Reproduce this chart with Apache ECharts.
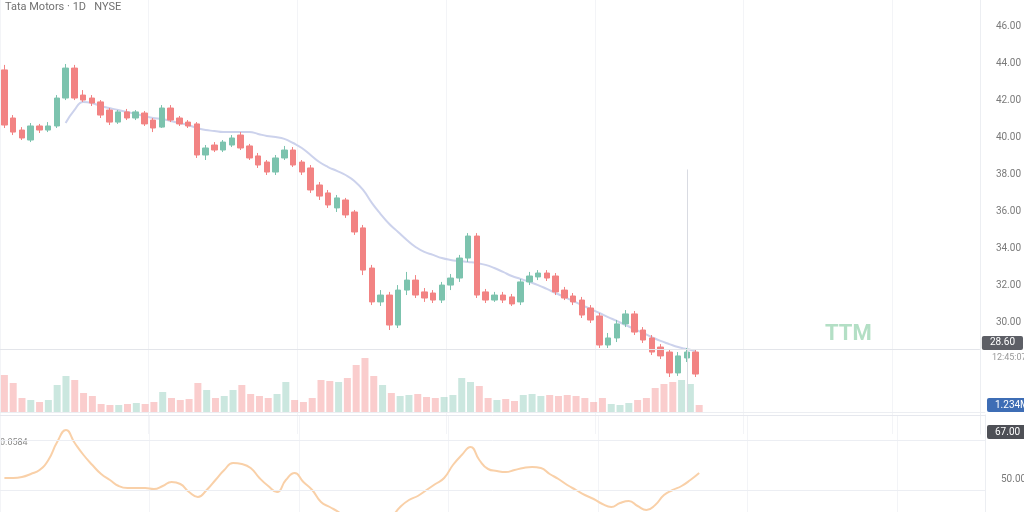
<!DOCTYPE html>
<html>
<head>
<meta charset="utf-8">
<script src="https://cdn.jsdelivr.net/npm/echarts@6/dist/echarts.min.js"></script>
<style>html,body{margin:0;padding:0;background:#fff}#c{width:1024px;height:512px}</style>
</head>
<body>
<div id="c"></div>
<script>
// ---- data ----
// candles: [open, close, low, high]
var candles = [
[43.68,40.70,40.54,43.95],[41.08,40.32,40.16,41.24],[40.43,40.00,39.89,40.59],[39.89,40.65,39.78,40.81],
[40.65,40.43,40.27,40.76],[40.43,40.65,40.32,40.86],[40.65,42.16,40.54,42.32],[42.16,43.78,42.05,44.00],
[43.78,42.16,42.05,43.95],[42.32,42.05,41.95,42.59],[42.16,41.89,41.73,42.32],[41.95,41.24,41.08,42.05],
[41.51,40.86,40.70,41.62],[40.86,41.41,40.76,41.51],[41.41,41.08,40.97,41.57],[41.08,41.41,40.97,41.51],
[41.35,40.76,40.65,41.46],[40.97,40.54,40.32,41.08],[40.59,41.62,40.54,41.78],[41.62,40.97,40.86,41.78],
[41.08,40.76,40.65,41.19],[40.86,40.65,40.54,40.97],[40.76,39.08,38.92,40.86],[39.08,39.46,38.81,39.62],
[39.62,39.35,39.24,39.78],[39.35,39.78,39.24,39.89],[39.62,40.00,39.51,40.16],[40.16,39.46,39.35,40.32],
[39.57,38.92,38.81,39.68],[39.03,38.54,38.38,39.19],[38.70,38.16,38.00,38.81],[38.16,38.92,38.00,39.08],
[38.92,39.35,38.81,39.57],[39.35,38.54,38.43,39.51],[38.70,38.16,38.00,38.81],[38.38,37.19,37.03,38.54],
[37.46,36.86,36.65,37.62],[37.03,36.38,36.22,37.19],[36.22,36.76,36.00,36.92],[36.65,35.84,35.68,36.76],
[36.00,34.92,34.76,36.11],[35.14,32.86,32.59,35.30],[32.97,31.14,30.97,33.14],[31.14,31.51,30.92,31.78],
[31.51,29.89,29.62,31.68],[29.89,31.78,29.73,32.05],[31.78,32.32,31.51,32.76],[32.32,31.51,31.35,32.59],
[31.68,31.35,31.14,31.89],[31.62,31.24,31.08,31.78],[31.24,32.05,31.08,32.22],[32.05,32.43,31.78,32.65],
[32.43,33.51,32.22,33.68],[33.51,34.70,33.30,34.86],[34.70,31.51,31.35,34.86],[31.68,31.24,31.08,31.84],
[31.24,31.51,31.14,31.68],[31.51,31.24,31.08,31.68],[31.41,31.03,30.92,31.57],[31.14,32.22,30.97,32.38],
[32.22,32.54,32.05,32.76],[32.49,32.70,32.32,32.86],[32.70,32.43,32.27,32.86],[32.54,31.68,31.51,32.70],
[31.78,31.35,31.24,31.95],[31.46,31.14,30.97,31.62],[31.24,30.43,30.27,31.41],[30.81,30.16,30.00,30.97],
[30.38,28.81,28.65,30.54],[28.81,29.19,28.65,29.46],[29.19,29.95,28.97,30.16],[29.95,30.49,29.78,30.70],
[30.49,29.51,29.35,30.65],[29.62,29.08,28.92,29.78],[29.19,28.43,28.27,29.35],[28.70,28.22,28.05,28.86],
[28.43,27.30,27.08,28.59],[27.30,28.22,27.14,28.43],[28.11,28.43,27.89,28.65],[28.43,27.24,27.08,28.59]
];
var maValues = [null,null,null,null,null,null,null,
40.81,41.51,41.95,41.89,41.73,41.62,41.51,41.41,41.30,41.19,41.08,41.03,40.92,40.81,40.70,40.54,
40.43,40.38,40.32,40.32,40.32,40.32,40.22,40.11,40.05,39.95,39.73,39.46,39.08,38.70,38.43,38.22,
38.00,37.68,37.19,36.49,35.89,35.35,34.92,34.49,34.11,33.84,33.68,33.51,33.41,33.35,33.30,33.24,
33.14,32.97,32.76,32.54,32.38,32.22,32.05,31.84,31.62,31.41,31.19,30.97,30.76,30.54,30.32,30.11,
29.89,29.68,29.46,29.24,29.03,28.86,28.70,28.59,28.49];
var volumes = [3.7,2.9,1.4,1.2,1.0,1.2,2.7,3.6,3.2,1.9,1.6,0.8,0.7,0.7,0.8,0.9,0.8,1.0,2.0,1.4,
1.2,1.3,2.9,2.2,1.4,1.6,2.2,2.7,1.8,1.6,1.4,1.8,3.0,1.2,1.0,1.4,3.2,3.1,3.0,3.4,
4.7,5.4,3.6,2.7,1.9,1.6,1.7,1.8,1.5,1.4,1.5,1.7,3.4,3.0,2.6,1.4,1.2,1.3,1.1,1.7,
1.8,1.6,1.7,1.6,1.7,1.6,1.4,1.0,1.4,0.8,0.7,0.9,1.2,1.4,2.4,2.8,3.0,3.2,2.8,0.7];
var indicator = [62,62,63,66,70,80,98,110,97,85,75,66,60,54,52,52,52,51,54,58,
56,48,43,50,60,70,77,76,72,62,54,48,60,67,58,50,38,33,28,22,
18,16,15,18,23,33,40,44,50,56,62,75,85,93,80,71,69,68,70,72,
73,72,66,61,55,50,45,41,36,33,37,39,34,30,35,45,50,54,60,67];
var priceTicks = [30,32,34,36,38,40,42,44,46];
var indicatorLevels = [50,100];
var crossIndex = 78;
var crossPrice = 28.60;
var totalSlots = 112;
// category labels (trading days)
var categories = [];
(function(){var d=new Date(Date.UTC(2024,0,2));while(categories.length<totalSlots){var w=d.getUTCDay();if(w!==0&&w!==6){categories.push(d.toISOString().slice(0,10));}d.setUTCDate(d.getUTCDate()+1);}})();

var UP='#7cc3ae', DOWN='#f28383';
var volData = volumes.map(function(v,i){
  var c=candles[i]; return {value:v,itemStyle:{color:(c[1]>=c[0]?UP:DOWN),opacity:0.4}};
});
var pill = function(bg){return {show:true,position:'end',distance:2,backgroundColor:bg,color:'#fff',fontSize:10,padding:[2,8,2,8],borderRadius:2,fontFamily:'Roboto'};};
var hidden = {color:'rgba(0,0,0,0)',width:0};

var chart = echarts.init(document.getElementById('c'));
var xBase = {type:'category',data:categories,boundaryGap:true,axisLabel:{show:false},axisTick:{show:false}};
chart.setOption({
  animation:false,
  backgroundColor:'#ffffff',
  title:[
    {text:'Tata Motors · 1D   NYSE',left:0,top:-3,textStyle:{fontSize:11,color:'#707070',fontWeight:'normal',fontFamily:'Roboto'}},
    {text:'TTM',left:820,top:318,textStyle:{fontSize:22,color:'#b3dfc5',fontWeight:'bold',fontFamily:'Roboto'}}
  ],
  grid:[
    {left:0,right:39,top:0,height:434},
    {left:0,right:39,top:350,height:62},
    {left:0,right:39,top:415,height:97}
  ],
  xAxis:[
    Object.assign({},xBase,{gridIndex:0,axisLine:{show:false},splitLine:{show:true,interval:16,lineStyle:{color:'#f3f4f7'}}}),
    Object.assign({},xBase,{gridIndex:1,axisLine:{show:true,lineStyle:{color:'#eceef2'}},splitLine:{show:false}}),
    Object.assign({},xBase,{gridIndex:2,position:'top',axisLine:{show:true,lineStyle:{color:'#e6e8ee'}},splitLine:{show:true,interval:16,lineStyle:{color:'#f3f4f7'}}})
  ],
  yAxis:[
    {gridIndex:0,type:'value',position:'right',min:24,max:47.459,interval:2,
     axisLine:{show:true,lineStyle:{color:'#eceef2'}},axisTick:{show:false},splitLine:{show:false},
     axisLabel:{margin:16,fontSize:10,color:'#7a7a7a',fontFamily:'Roboto',
       formatter:function(v){return priceTicks.indexOf(v)>=0?v.toFixed(2):'';}}},
    {gridIndex:1,type:'value',position:'right',min:0,max:6.2,show:false},
    {gridIndex:2,type:'value',position:'right',min:28,max:125,
     axisLine:{show:true,lineStyle:{color:'#eceef2'}},axisTick:{show:false},
     splitLine:{show:false},axisLabel:{show:false}}
  ],
  series:[
    {type:'candlestick',xAxisIndex:0,yAxisIndex:0,data:candles,barWidth:6,
     itemStyle:{color:UP,color0:DOWN,borderColor:UP,borderColor0:DOWN,borderWidth:1},
     markLine:{silent:true,symbol:'none',animation:false,
       data:[
         [{coord:[crossIndex,38.3],lineStyle:{color:'#d9dbe2',width:1,type:'solid'},label:{show:false}},{coord:[crossIndex,25.2]}],
         {yAxis:crossPrice,lineStyle:{color:'#e3e5ea',width:1,type:'solid'},
          label:{show:true,position:'end',distance:2,
            formatter:function(){return '{a|'+crossPrice.toFixed(2)+'}\n{b|12:45:07}';},
            rich:{a:{backgroundColor:'#5d5f66',color:'#fff',fontSize:10,padding:[2,8,2,8],borderRadius:2,fontFamily:'Roboto'},
                  b:{color:'#999',fontSize:9,padding:[3,0,0,10],fontFamily:'Roboto'}}}}
       ]}},
    {type:'line',xAxisIndex:0,yAxisIndex:0,data:maValues,smooth:true,showSymbol:false,
     lineStyle:{color:'#ccd2ec',width:2},z:1},
    {type:'bar',xAxisIndex:1,yAxisIndex:1,data:volData,barWidth:7,
     markLine:{silent:true,symbol:'none',animation:false,
       data:[{yAxis:0.7,lineStyle:hidden,label:Object.assign(pill('#3e6db5'),{formatter:'1.234M'})}]}},
    {type:'line',xAxisIndex:2,yAxisIndex:2,data:indicator,smooth:true,showSymbol:false,
     lineStyle:{color:'#f9d0a8',width:2},
     markLine:{silent:true,symbol:'none',animation:false,
       data:[
         {yAxis:indicatorLevels[1],lineStyle:{color:'#eceef3',width:1,type:'solid'},label:{show:false}},
         {yAxis:indicatorLevels[0],lineStyle:{color:'#eceef3',width:1,type:'solid'},
          label:{show:true,position:'end',distance:16,offset:[0,-11],formatter:'50.00',color:'#7a7a7a',fontSize:10,fontFamily:'Roboto'}},
         {yAxis:108,lineStyle:hidden,label:Object.assign(pill('#4e5056'),{formatter:'67.00'})}
       ]}}
  ],
  graphic:[
    {type:'text',left:0,top:438,style:{text:'0.0584',fontSize:9,fill:'#888',fontFamily:'Roboto'}}
  ]
});
</script>
</body>
</html>
